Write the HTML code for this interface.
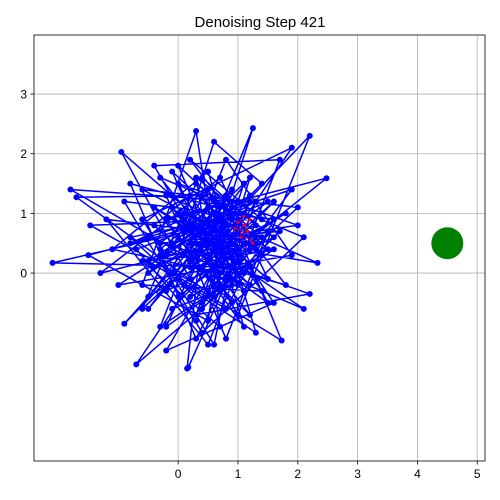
<!DOCTYPE html>
<html><head><meta charset="utf-8"><style>
body{margin:0;background:#fff;}
svg{display:block;font-family:"Liberation Sans","DejaVu Sans",sans-serif;}
</style></head><body>
<svg id="chart" width="500" height="500"></svg>
<script>
const xTicks=[0,1,2,3,4,5];
const yTicks=[0,1,2,3];
const walkX=[0.2,1.2,-0.5,0.8,1.6,-0.9,0.4,2.1,-0.3,0.9,-2.1,0.6,1.4,-0.6,0.3,0.7,1.9,-0.8,0.5,1.1,-0.2,2.48,0.0,1.3,-1.2,0.5,1.7,-0.4,0.9,0.1,-1.8,1.0,0.3,2.2,-0.5,0.7,1.5,-0.95,0.2,1.25,0.6,-0.7,1.2,-0.3,0.8,1.9,-1.0,0.4,0.15,0.17,1.1,-0.6,2.0,0.5,-1.47,0.9,1.73,-0.1,0.6,1.4,-0.9,0.3,2.33,-0.2,0.8,1.5,-1.3,0.0,1.0,2.2,0.2,-0.5,1.2,0.6,-1.7,0.4,1.6,-0.2,0.9,1.9,-0.6,0.1,1.3,0.5,-1.1,0.7,2.1,-0.4,1.0,0.3,-0.8,1.4,0.2,1.8,-0.3,0.8,0.5,-1.5,1.1,0.4,1.6,-0.1,0.9,0.0,2.0,0.6,
0.1,1.0,-0.4,0.7,1.3,-0.2,0.5,1.5,0.0,0.9,-0.7,0.3,1.2,0.6,-0.1,1.4,0.2,0.8,-0.5,1.1,0.4,1.7,-0.3,0.6,1.0,0.1,1.3,-0.6,0.7,0.3,1.6,-0.2,0.9,0.5,1.2,-0.4,0.2,1.1,0.7,-0.8,0.4,1.5,0.0,0.8,1.3,-0.3,0.6,1.0,0.2,1.8,-0.5,0.9,0.4,1.2,-0.1,0.7,1.4,0.3,-0.6,1.0,0.5,1.6,-0.2,0.8,0.1,1.1,0.6,-0.4,1.3,0.4,0.9,-0.1,1.5,0.2,0.7,1.0];
const walkY=[0.5,1.3,0.2,-0.6,0.9,1.2,-1.0,0.6,1.6,0.1,0.17,0.8,-0.3,-0.2,2.38,-0.2,1.4,0.5,1.1,-0.9,0.9,1.59,-0.4,0.6,0.9,-1.2,1.9,1.8,-0.5,0.3,1.4,1.2,-0.7,-0.35,0.6,1.6,-0.1,2.03,-0.1,2.43,0.4,-1.53,0.1,-0.9,1.9,0.3,-0.2,0.7,-1.6,-1.58,0.5,1.4,1.1,-0.3,0.8,0.9,-1.13,0.0,2.2,1.5,-0.85,0.5,0.17,1.3,-1.1,0.7,0.0,1.0,-0.7,2.3,0.2,-0.6,1.6,-0.4,1.27,1.3,-0.5,-1.3,0.6,2.1,0.9,-0.2,-1.0,1.7,0.4,0.0,-0.6,1.1,0.3,-1.1,1.5,0.9,1.9,-0.2,0.4,1.3,-0.8,0.3,1.0,0.1,1.2,-0.6,-0.2,1.5,0.8,0.6,
0.9,0.2,1.1,-0.3,0.5,0.3,1.4,-0.5,0.6,1.0,0.4,-0.8,1.2,0.1,1.7,0.3,-0.4,0.8,0.0,1.5,-0.6,0.7,0.5,1.2,-0.2,1.0,0.4,0.2,-0.9,1.6,0.6,-0.3,1.1,0.2,-0.7,0.8,1.3,0.0,0.9,0.6,-0.5,0.4,1.8,-0.1,1.2,0.3,-1.2,0.7,0.1,1.0,-0.4,1.4,0.5,-0.2,1.1,0.0,0.6,1.5,-0.6,0.9,0.2,0.4,-0.9,1.3,0.7,-0.3,1.0,0.1,0.8,1.6,-0.1,0.5,1.2,0.2,0.9,0.4];
const redX=[1.1,1.0,1.2,1.15,0.95,1.25,1.1,1.05];
const redY=[0.95,0.85,0.9,0.7,0.75,0.5,0.8,0.6];
const targetX=[4.5];
const targetY=[0.5];

const NS="http://www.w3.org/2000/svg";
const svg=document.getElementById('chart');
const L=34,R=485,T=35,B=461;
const xMin=-2.41,xMax=5.13,yMin=-3.15,yMax=3.99;
const sx=v=>L+(v-xMin)/(xMax-xMin)*(R-L);
const sy=v=>B-(v-yMin)/(yMax-yMin)*(B-T);
function mk(tag,attrs){const e=document.createElementNS(NS,tag);for(const k in attrs)e.setAttribute(k,attrs[k]);svg.appendChild(e);return e;}

const title=mk('text',{x:260,y:27,'text-anchor':'middle','font-size':15});
title.textContent='Denoising Step 421';



xTicks.forEach(t=>{
  const g=mk('line',{x1:sx(t),x2:sx(t),y1:T,y2:B,stroke:'#b0b0b0','stroke-width':0.8});
  
  
  mk('line',{x1:sx(t),x2:sx(t),y1:B,y2:B+3.5,stroke:'#000','stroke-width':0.8});
  const tx=mk('text',{x:sx(t),y:B+17,'text-anchor':'middle','font-size':12});
  tx.textContent=t;
  
  
});
yTicks.forEach(t=>{
  const g=mk('line',{x1:L,x2:R,y1:sy(t),y2:sy(t),stroke:'#b0b0b0','stroke-width':0.8});
  
  
  mk('line',{x1:L-3.5,x2:L,y1:sy(t),y2:sy(t),stroke:'#000','stroke-width':0.8});
  const tx=mk('text',{x:L-7,y:sy(t)+4.5,'text-anchor':'end','font-size':12});
  tx.textContent=t;
  
  
});

const pts=walkX.map((x,i)=>sx(x).toFixed(1)+','+sy(walkY[i]).toFixed(1)).join(' ');
const path=mk('polyline',{points:pts,fill:'none',stroke:'#0000ff','stroke-width':1.5,'stroke-linejoin':'round'});


walkX.forEach((x,i)=>{
  const c=mk('circle',{cx:sx(x),cy:sy(walkY[i]),r:3,fill:'#0000ff'});
  
  
});

const rpts=redX.map((x,i)=>sx(x).toFixed(1)+','+sy(redY[i]).toFixed(1)).join(' ');
const rp=mk('polyline',{points:rpts,fill:'none',stroke:'#ff0000','stroke-width':1,'stroke-dasharray':'2,2'});


redX.forEach((x,i)=>{
  const c=mk('circle',{cx:sx(x),cy:sy(redY[i]),r:1.5,fill:'#ff0000'});
  
  
});

const tg=mk('circle',{cx:sx(targetX[0]),cy:sy(targetY[0]),r:16,fill:'#008000'});



const frame=mk('rect',{x:L,y:T,width:R-L,height:B-T,fill:'none',stroke:'#000','stroke-width':0.8});


</script>
</body></html>
